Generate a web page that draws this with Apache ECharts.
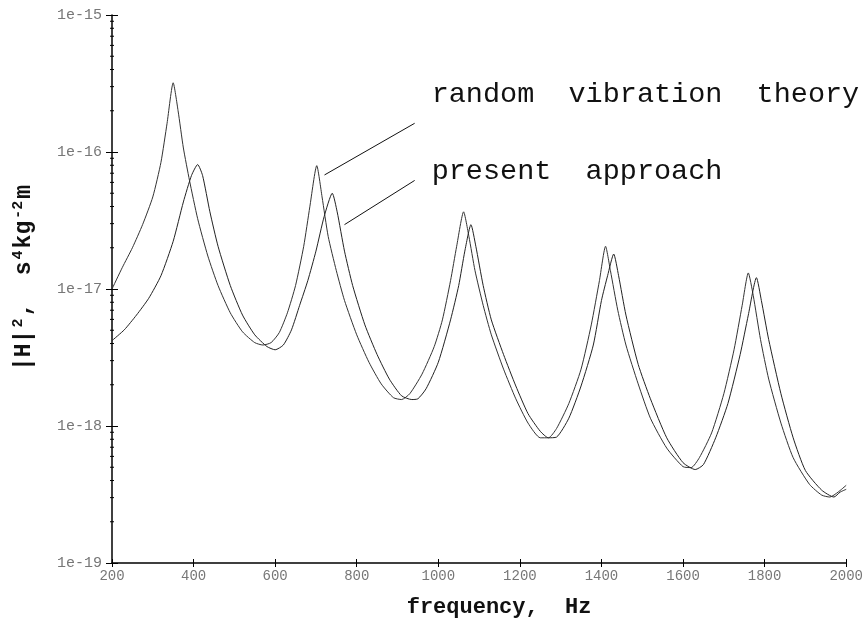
<!DOCTYPE html>
<html lang="en">
<head>
    <meta charset="UTF-8">
    <title>|H|^2 vs frequency</title>
    <style>
        * { margin: 0; padding: 0; }
        html, body, #chart { width: 866px; height: 623px; background: #fff; overflow: hidden; }
    </style>
</head>
<body>
    <div id="chart"></div>
    <script src="https://cdn.jsdelivr.net/npm/echarts@6/dist/echarts.min.js"></script>
    <script>
        // random vibration theory
        let freqA = [200, 225, 250, 275, 300, 320, 335, 350, 362, 375, 390, 410, 435, 460, 490, 520, 550, 570, 590, 610,
            630, 650, 670, 685, 702, 715, 730, 750, 770, 800, 830, 860, 890, 910, 930, 960, 990, 1010, 1030, 1045,
            1062, 1075, 1090, 1110, 1130, 1160, 1190, 1220, 1250, 1270, 1290, 1320, 1350, 1375, 1395, 1410, 1422, 1440, 1460, 1490,
            1520, 1560, 1600, 1620, 1640, 1670, 1700, 1725, 1745, 1760, 1772, 1790, 1810, 1840, 1870, 1910, 1940, 1960, 1980, 2000];
        let valA = [1.0e-17, 1.43e-17, 2.0e-17, 2.95e-17, 4.7e-17, 8.4e-17, 1.62e-16, 3.2e-16, 2.0e-16, 1.07e-16, 6.2e-17, 3.26e-17, 1.74e-17, 1.06e-17, 6.7e-18, 4.87e-18, 4.06e-18, 3.9e-18, 4.06e-18, 4.8e-18,
            6.7e-18, 1.06e-17, 2.05e-17, 3.98e-17, 7.95e-17, 4.7e-17, 2.42e-17, 1.36e-17, 8.25e-18, 4.63e-18, 2.92e-18, 2.03e-18, 1.61e-18, 1.56e-18, 1.72e-18, 2.39e-18, 3.8e-18, 5.95e-18, 1.15e-17, 2.05e-17,
            3.66e-17, 2.42e-17, 1.36e-17, 7.6e-18, 4.63e-18, 2.6e-18, 1.58e-18, 1.05e-18, 8.2e-19, 8.2e-19, 9.6e-19, 1.46e-18, 2.6e-18, 5.47e-18, 1.15e-17, 2.05e-17, 1.36e-17, 7.0e-18, 3.9e-18, 2.03e-18,
            1.14e-18, 6.9e-19, 5.05e-19, 4.97e-19, 5.87e-19, 8.9e-19, 1.72e-18, 3.6e-18, 7.6e-18, 1.31e-17, 9.0e-18, 4.27e-18, 2.2e-18, 1.05e-18, 5.87e-19, 3.75e-19, 3.13e-19, 3.03e-19, 3.29e-19, 3.69e-19];

        // present approach
        let freqB = [200, 230, 260, 290, 320, 350, 375, 395, 410, 422, 440, 460, 490, 520, 550, 580, 600, 620, 640, 660,
            680, 700, 720, 740, 752, 770, 790, 820, 850, 880, 910, 935, 950, 970, 1000, 1030, 1050, 1065, 1080, 1092,
            1110, 1130, 1160, 1190, 1220, 1250, 1270, 1290, 1320, 1350, 1380, 1400, 1415, 1430, 1442, 1460, 1490, 1520, 1560, 1600,
            1630, 1650, 1680, 1710, 1740, 1760, 1780, 1792, 1810, 1840, 1870, 1900, 1940, 1970, 1985, 2000];
        let valB = [4.2e-18, 5.03e-18, 6.45e-18, 8.55e-18, 1.25e-17, 2.23e-17, 4.32e-17, 6.75e-17, 8.1e-17, 6.75e-17, 3.66e-17, 2.05e-17, 1.06e-17, 6.45e-18, 4.63e-18, 3.8e-18, 3.6e-18, 3.9e-18, 5.03e-18, 7.6e-18,
            1.15e-17, 1.89e-17, 3.37e-17, 5.0e-17, 3.66e-17, 1.89e-17, 1.06e-17, 5.47e-18, 3.32e-18, 2.2e-18, 1.66e-18, 1.56e-18, 1.58e-18, 1.87e-18, 2.92e-18, 5.95e-18, 1.06e-17, 1.89e-17, 2.95e-17, 2.05e-17,
            1.06e-17, 5.95e-18, 3.32e-18, 1.96e-18, 1.23e-18, 9.15e-19, 8.2e-19, 8.3e-19, 1.14e-18, 1.96e-18, 3.9e-18, 8.25e-18, 1.25e-17, 1.8e-17, 1.25e-17, 6.45e-18, 2.82e-18, 1.58e-18, 8.2e-19, 5.4e-19,
            4.81e-19, 5.23e-19, 8.2e-19, 1.46e-18, 3.32e-18, 6.45e-18, 1.21e-17, 8.25e-18, 4.27e-18, 1.72e-18, 8.2e-19, 4.73e-19, 3.4e-19, 3.03e-19, 3.29e-19, 3.45e-19];

        let xTicks = [200, 400, 600, 800, 1000, 1200, 1400, 1600, 1800, 2000];
        let yDecades = [1e-19, 1e-18, 1e-17, 1e-16, 1e-15];
        let labelA = 'random  vibration  theory';
        let labelB = 'present  approach';

        let mono = "'Liberation Mono', 'DejaVu Sans Mono', monospace";

        function pairs(xs, ys) {
            return xs.map((x, i) => [x, ys[i]]);
        }

        let chart = echarts.init(document.getElementById('chart'), null, { renderer: 'canvas' });

        let option = {
            animation: false,
            backgroundColor: '#fff',
            grid: { left: 112, width: 735, top: 15, height: 557 },
            xAxis: [{
                type: 'value',
                min: xTicks[0],
                max: xTicks[xTicks.length - 1],
                interval: 200,
                name: 'frequency,  Hz',
                nameLocation: 'middle',
                nameGap: 33,
                nameTextStyle: { fontFamily: mono, fontWeight: 'bold', fontSize: 22, color: '#111', padding: [0, 0, 0, 40] },
                axisLine: { lineStyle: { color: '#000', width: 1.5 } },
                axisTick: { length: 4, lineStyle: { color: '#000' } },
                axisLabel: { fontFamily: mono, fontSize: 14, color: '#777', margin: 6, formatter: v => String(v) },
                splitLine: { show: false }
            }, {
                type: 'value',
                min: xTicks[0],
                max: xTicks[xTicks.length - 1],
                interval: 200,
                position: 'bottom',
                axisLine: { show: false },
                axisTick: { inside: true, length: 4, lineStyle: { color: '#000' } },
                axisLabel: { show: false },
                splitLine: { show: false }
            }],
            yAxis: [{
                type: 'log',
                logBase: 10,
                min: yDecades[0],
                max: yDecades[yDecades.length - 1],
                name: '|H|{sup|2},  s{sup|4}kg{sup|-2}m',
                nameLocation: 'middle',
                nameGap: 74,
                nameRotate: 90,
                nameTextStyle: {
                    fontFamily: mono, fontWeight: 'bold', fontSize: 23, color: '#111',
                    padding: [0, 0, 0, 22],
                    rich: {
                        sup: { fontFamily: mono, fontWeight: 'bold', fontSize: 15, color: '#111', verticalAlign: 'top', padding: [0, 2, 12, 2] }
                    }
                },
                axisLine: { lineStyle: { color: '#000', width: 1.5 } },
                axisTick: { length: 6, lineStyle: { color: '#000' } },
                axisLabel: {
                    fontFamily: mono, fontSize: 15, color: '#777', margin: 10,
                    formatter: v => '1e-' + Math.round(-Math.log10(v))
                },
                splitLine: { show: false }
            }, {
                type: 'log',
                logBase: 10,
                min: yDecades[0],
                max: yDecades[yDecades.length - 1],
                position: 'left',
                axisLine: { show: false },
                axisTick: { inside: true, length: 6, lineStyle: { color: '#000' } },
                axisLabel: { show: false },
                splitLine: { show: false }
            }],
            series: [{
                name: 'random vibration theory',
                type: 'line',
                data: pairs(freqA, valA),
                showSymbol: false,
                smooth: 0.2,
                lineStyle: { color: '#333', width: 1 },
                markLine: {
                    silent: true,
                    symbol: 'none',
                    label: { show: false },
                    lineStyle: { color: '#111', width: 1, type: 'solid' },
                    data: [[{ coord: [721, 6.8e-17] }, { coord: [942, 1.62e-16] }]]
                }
            }, {
                name: 'present approach',
                type: 'line',
                data: pairs(freqB, valB),
                showSymbol: false,
                smooth: 0.2,
                lineStyle: { color: '#222', width: 1 },
                markLine: {
                    silent: true,
                    symbol: 'none',
                    label: { show: false },
                    lineStyle: { color: '#111', width: 1, type: 'solid' },
                    data: [[{ coord: [770, 2.95e-17] }, { coord: [942, 6.2e-17] }]]
                }
            }]
        };
        chart.setOption(option);

        // text labels next to leader lines + log minor ticks on y axis
        let pA = chart.convertToPixel({ gridIndex: 0 }, [942, 1.62e-16]);
        let pB = chart.convertToPixel({ gridIndex: 0 }, [942, 6.2e-17]);
        let graphics = [
            { type: 'text', x: pA[0] + 17, y: pA[1] - 29, style: { text: labelA, font: '28.5px ' + mono, fill: '#111', verticalAlign: 'middle' } },
            { type: 'text', x: pB[0] + 17, y: pB[1] - 9, style: { text: labelB, font: '28.5px ' + mono, fill: '#111', verticalAlign: 'middle' } }
        ];
        let axisX = chart.convertToPixel({ gridIndex: 0 }, [200, 1e-17])[0];
        for (let d = 0; d < yDecades.length - 1; d++) {
            for (let m = 2; m <= 9; m++) {
                let py = chart.convertToPixel({ yAxisIndex: 0 }, m * yDecades[d]);
                graphics.push({
                    type: 'line',
                    shape: { x1: axisX - 2, y1: py, x2: axisX + 2, y2: py },
                    style: { stroke: '#000', lineWidth: 1 }
                });
            }
        }
        chart.setOption({ graphic: graphics });
    </script>
</body>
</html>
